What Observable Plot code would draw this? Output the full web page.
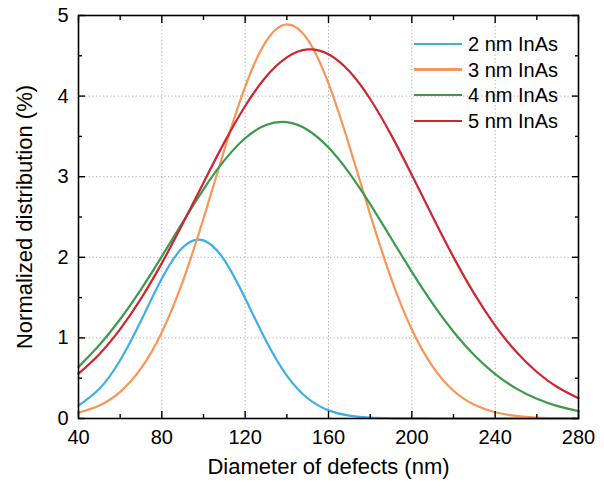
<!DOCTYPE html>
<html><head><meta charset="utf-8">
<script src="https://cdn.jsdelivr.net/npm/d3@7"></script>
<script src="https://cdn.jsdelivr.net/npm/@observablehq/plot@0.6"></script>
<style>
body{margin:0;background:#fff;font-family:"Liberation Sans",Arial,sans-serif;}
#wrap{position:relative;width:604px;height:486px;}
#legend{position:absolute;left:414px;top:31px;}
.row{display:flex;align-items:center;height:25.7px;}
.sw{width:48px;height:2.5px;margin-right:6px;}
.lab{font-size:20px;color:#000;line-height:1;}
</style></head><body><div id="wrap"><div id="legend"></div></div>
<script>
const diameters = [40,50,60,70,80,90,100,110,120,130,140,150,160,170,180,190,200,210,220,230,240,250,260,270,280];
const seriesNames = ["2 nm InAs","3 nm InAs","4 nm InAs","5 nm InAs"];
const seriesColors = ["#3eafe5","#f99558","#3b9a4b","#cf2530"];
const inas2 = [0.160,0.368,0.723,1.213,1.736,2.121,2.210,1.965,1.491,0.965,0.533,0.251,0.101,0.035,0.010,0.003,0.001,0,0,0,0,0,0,0,0];
const inas3 = [0.073,0.162,0.331,0.621,1.071,1.699,2.481,3.333,4.117,4.678,4.890,4.702,4.158,3.383,2.532,1.742,1.104,0.643,0.344,0.170,0.077,0.032,0.012,0.004,0.001];
const inas4 = [0.640,0.912,1.231,1.602,2.012,2.435,2.844,3.202,3.477,3.641,3.676,3.580,3.362,3.045,2.660,2.240,1.820,1.426,1.077,0.784,0.551,0.374,0.244,0.154,0.093];
const inas5 = [0.556,0.798,1.108,1.487,1.928,2.416,2.926,3.426,3.877,4.240,4.481,4.579,4.520,4.308,3.964,3.522,3.022,2.503,2.002,1.546,1.153,0.830,0.577,0.387,0.251];
const xTicks = [40,80,120,160,200,240,280];
const xMinor = [60,100,140,180,220,260];
const yTicks = [0,1,2,3,4,5];
const yMinor = [0.5,1.5,2.5,3.5,4.5];
const xTitle = "Diameter of defects (nm)";
const yTitle = "Normalized distribution (%)";

const allSeries = [inas2, inas3, inas4, inas5];
const rows = [];
allSeries.forEach((vals, s) => vals.forEach((v, i) => rows.push({d: diameters[i], v, s: seriesNames[s]})));

const inner = xTicks.slice(1, -1);
const innerY = yTicks.slice(1, -1);
const maj = 7, mnr = 4;
const tickAxes = (ticks, len) => [
  Plot.axisX(ticks, {anchor: "bottom", tickSize: len, dy: -len, tickFormat: () => "", label: null, strokeWidth: 1.4}),
  Plot.axisX(ticks, {anchor: "top", tickSize: len, dy: len, tickFormat: () => "", label: null, strokeWidth: 1.4})
];
const tickAxesY = (ticks, len) => [
  Plot.axisY(ticks, {anchor: "left", tickSize: len, dx: len, tickFormat: () => "", label: null, strokeWidth: 1.4}),
  Plot.axisY(ticks, {anchor: "right", tickSize: len, dx: -len, tickFormat: () => "", label: null, strokeWidth: 1.4})
];

const chart = Plot.plot({
  width: 604, height: 486,
  marginLeft: 78, marginRight: 26, marginTop: 15, marginBottom: 68,
  style: {fontFamily: "Liberation Sans, Arial, sans-serif", fontSize: "20px", color: "#000", background: "#fff"},
  x: {domain: [40, 280]},
  y: {domain: [0, 5]},
  color: {domain: seriesNames, range: seriesColors},
  marks: [
    Plot.ruleX(inner, {stroke: "#aaa", strokeDasharray: "1.2,2.4", strokeWidth: 1}),
    Plot.ruleY(innerY, {stroke: "#aaa", strokeDasharray: "1.2,2.4", strokeWidth: 1}),
    Plot.line(rows, {x: "d", y: "v", z: "s", stroke: "s", curve: "natural", strokeWidth: 2.2}),
    ...tickAxes(xTicks, maj), ...tickAxes(xMinor, mnr),
    ...tickAxesY(yTicks, maj), ...tickAxesY(yMinor, mnr),
    Plot.axisX(xTicks, {anchor: "bottom", tickSize: 0, tickPadding: 11, fontSize: 20, label: null, tickFormat: d => String(d)}),
    Plot.axisY(yTicks, {anchor: "left", tickSize: 0, tickPadding: 10, fontSize: 20, label: null, tickFormat: d => String(d)}),
    Plot.frame({stroke: "#000", strokeWidth: 1.6}),
    Plot.text([xTitle], {text: d => d, frameAnchor: "bottom", textAnchor: "middle", dy: 55, fontSize: 22, fill: "#000"}),
    Plot.text([yTitle], {text: d => d, frameAnchor: "left", textAnchor: "middle", rotate: -90, dx: -54, fontSize: 22, fill: "#000"})
  ]
});
document.getElementById("wrap").prepend(chart);

const legend = document.getElementById("legend");
seriesNames.forEach((name, i) => {
  const row = document.createElement("div");
  row.className = "row";
  row.innerHTML = `<div class="sw" style="background:${seriesColors[i]}"></div><span class="lab">${name}</span>`;
  legend.appendChild(row);
});
</script>
</body></html>
